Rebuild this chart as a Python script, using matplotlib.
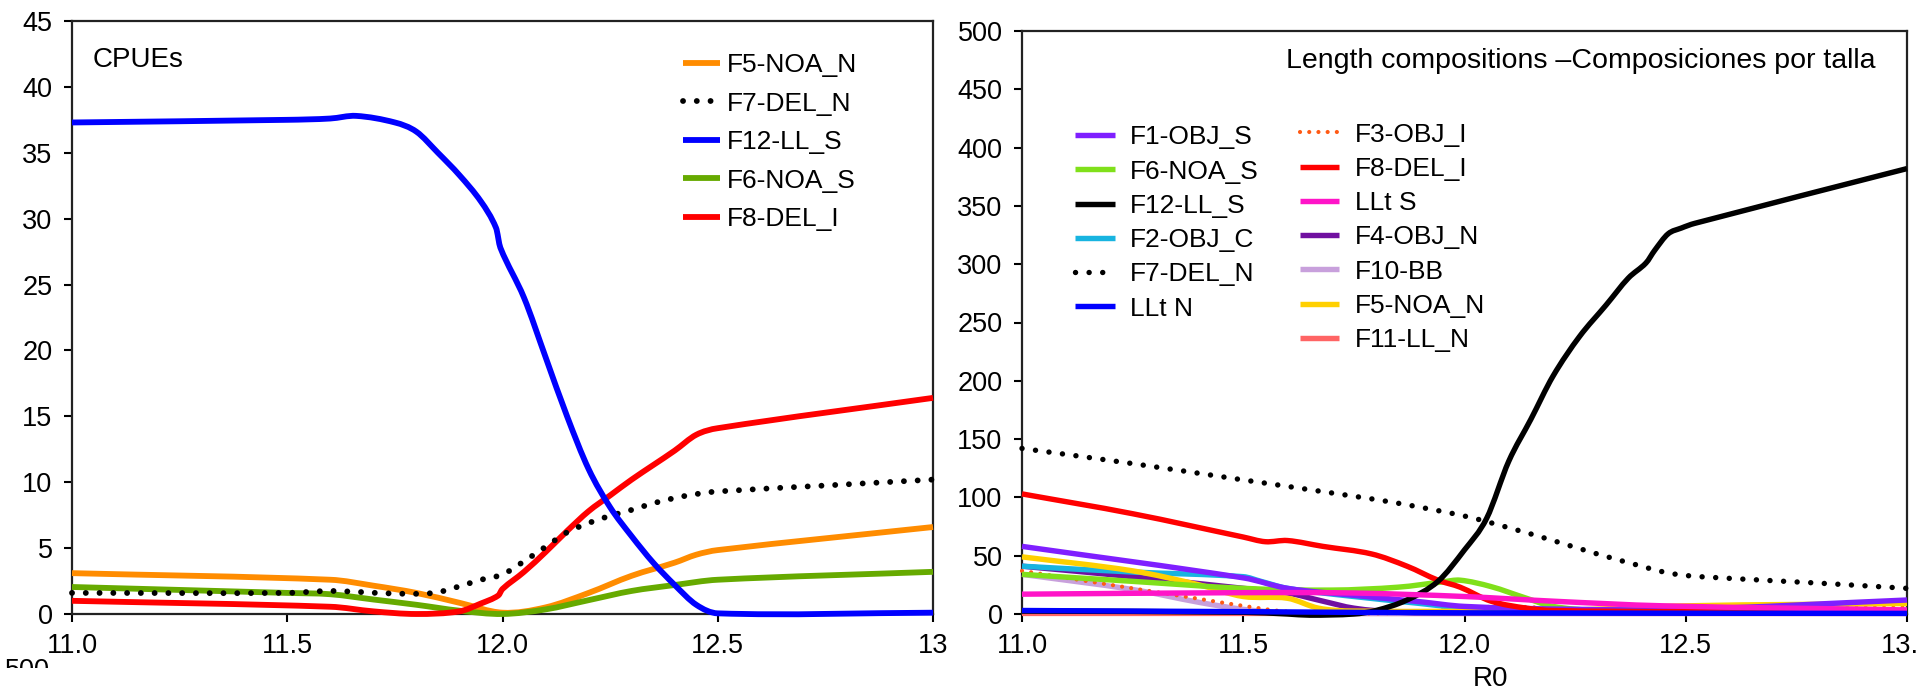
import matplotlib
matplotlib.use('Agg')
import matplotlib.pyplot as plt
from matplotlib.lines import Line2D
from matplotlib.patches import Rectangle, PathPatch
from matplotlib.path import Path

plt.rcParams['font.family'] = ['Liberation Sans', 'DejaVu Sans']

# ---- left panel: CPUEs ----
f5_x = [11.0, 11.6, 11.7, 11.8, 11.9, 12.0, 12.1, 12.2, 12.3, 12.4, 12.45, 12.5, 13.0]
f5_y = [3.1, 2.6, 2.15, 1.6, 0.85, 0.1, 0.5, 1.6, 2.9, 3.9, 4.5, 4.85, 6.6]
f7_x = [11.0, 11.5, 11.6, 11.75, 11.84, 11.9, 11.95, 12.0, 12.05, 12.1, 12.15, 12.2,
        12.25, 12.3, 12.35, 12.4, 12.45, 12.5, 12.75, 13.0]
f7_y = [1.6, 1.6, 1.75, 1.55, 1.6, 2.1, 2.6, 3.0, 4.0, 5.1, 6.2, 6.9,
        7.45, 7.9, 8.4, 8.8, 9.1, 9.3, 9.75, 10.2]
f12_x = [11.0, 11.5, 11.6, 11.66, 11.75, 11.8, 11.85, 11.9, 11.95, 11.985, 11.995, 12.05,
         12.1, 12.15, 12.2, 12.25, 12.3, 12.35, 12.4, 12.45, 12.5, 13.0]
f12_y = [37.3, 37.5, 37.6, 37.8, 37.3, 36.6, 35.0, 33.3, 31.3, 29.3, 27.8, 24.0,
         19.5, 15.0, 11.0, 8.1, 5.9, 3.9, 2.2, 0.7, 0.05, 0.1]
f6_x = [11.0, 11.5, 11.6, 11.7, 11.8, 11.9, 12.0, 12.1, 12.2, 12.3, 12.4, 12.5, 13.0]
f6_y = [2.05, 1.6, 1.5, 1.1, 0.7, 0.25, 0.0, 0.35, 1.05, 1.75, 2.2, 2.6, 3.2]
f8_x = [11.0, 11.6, 11.7, 11.8, 11.9, 11.95, 11.99, 12.0, 12.05, 12.1, 12.15, 12.2,
        12.25, 12.3, 12.35, 12.4, 12.45, 12.5, 13.0]
f8_y = [1.0, 0.55, 0.2, 0.0, 0.2, 0.8, 1.4, 1.9, 3.2, 4.7, 6.3, 7.8,
        9.0, 10.2, 11.3, 12.4, 13.6, 14.1, 16.4]

# ---- right panel: length compositions ----
r_f1_x = [11.0, 11.5, 11.6, 11.75, 11.9, 12.0, 12.25, 12.5, 13.0]
r_f1_y = [58, 31, 22, 16, 10.5, 6.5, 4, 4, 12]
r_f6_x = [11.0, 11.25, 11.5, 11.7, 11.85, 11.95, 11.99, 12.06, 12.14, 12.2, 12.3, 12.5, 13.0]
r_f6_y = [34, 28, 22, 20.5, 23, 27.5, 29, 23.5, 13.5, 6.5, 3, 2.5, 2.5]
r_f12_x = [11.0, 11.5, 11.6, 11.65, 11.75, 11.8, 11.87, 11.94, 12.0, 12.05, 12.1, 12.15,
           12.2, 12.26, 12.32, 12.37, 12.41, 12.43, 12.46, 12.49, 12.52, 13.0]
r_f12_y = [2.5, 1.5, 0, -1, 0, 3, 12, 28, 55, 82, 131, 167,
           204, 238, 265, 288, 301, 312, 326, 331, 335, 382]
r_f2_x = [11.0, 11.25, 11.5, 11.54, 11.6, 11.75, 11.9, 12.0, 12.2, 13.0]
r_f2_y = [41, 36, 32, 28, 22, 15, 9, 5, 2, 1.5]
r_f7_x = [11.0, 11.25, 11.5, 11.75, 11.85, 12.0, 12.1, 12.2, 12.3, 12.4, 12.45, 12.5, 12.65, 12.8, 13.0]
r_f7_y = [142, 129, 115, 101, 95, 84, 74, 63, 51.5, 41, 36, 33, 29.5, 26.5, 22]
r_lltn_x = [11.0, 11.5, 12.0, 13.0]
r_lltn_y = [3, 2, 1, 0.5]
r_f3_x = [11.0, 11.25, 11.4, 11.5, 11.6, 11.75, 11.9, 12.0, 12.1, 12.25, 12.5, 13.0]
r_f3_y = [37, 22, 13, 7, 2, 0.5, 1.5, 5, 6.5, 4, 5, 5.5]
r_f8_x = [11.0, 11.25, 11.5, 11.55, 11.6, 11.68, 11.79, 11.87, 11.94, 11.99, 12.06, 12.14, 12.2, 12.5, 13.0]
r_f8_y = [103, 86, 66, 62, 63, 58, 51.5, 41, 29, 23, 11, 5, 3, 2, 2]
r_llts_x = [11.0, 11.5, 11.75, 12.0, 12.2, 12.45, 13.0]
r_llts_y = [17, 18.3, 18, 15, 11, 7, 3.5]
r_f4_x = [11.0, 11.25, 11.5, 11.6, 11.68, 11.75, 11.85, 12.0, 13.0]
r_f4_y = [41, 32, 22, 18, 11, 5, 1.5, 1, 1]
r_f10_x = [11.0, 11.25, 11.4, 11.5, 11.6, 11.75, 13.0]
r_f10_y = [34, 21, 10, 4, 1, 0.5, 0.5]
r_f5_x = [11.0, 11.25, 11.4, 11.5, 11.6, 11.67, 11.75, 12.2, 12.5, 13.0]
r_f5_y = [49, 37, 25, 15, 13.5, 5, 2.5, 3, 7, 9]
r_f11_x = [11.0, 13.0]
r_f11_y = [0.5, 0.5]

xticks = [11.0, 11.5, 12.0, 12.5, 13.0]
left_xlabels = ['11.0', '11.5', '12.0', '12.5', '13']
right_xlabels = ['11.0', '11.5', '12.0', '12.5', '13.0']

W, H = 1917, 692
fig = plt.figure(figsize=(W / 100.0, H / 100.0), dpi=100)

def axes_px(l, t, r, b):
    return fig.add_axes([l / W, (H - b) / H, (r - l) / W, (b - t) / H])

ax1 = axes_px(72, 21, 933, 614)
ax2 = axes_px(1022, 31, 1907, 614)

def style(ax, ymax, ystep, labels):
    ax.set_xlim(11.0, 13.0)
    ax.set_ylim(0, ymax)
    ax.set_yticks(range(0, ymax + 1, ystep))
    ax.set_xticks(xticks)
    ax.set_xticklabels(labels)
    ax.tick_params(direction='out', length=6, width=1.5, labelsize=19.5, pad=8)
    for s in ax.spines.values():
        s.set_linewidth(1.6)
        s.set_color('#222222')

def smooth_path(x, y):
    # smoothed line like a spreadsheet "smoothed line": cubic Hermite pieces through the points
    n = len(x)
    m = []
    for i in range(n):
        a = max(i - 1, 0)
        b = min(i + 1, n - 1)
        m.append((y[b] - y[a]) / (x[b] - x[a]))
    verts = [(x[0], y[0])]
    codes = [Path.MOVETO]
    for i in range(n - 1):
        d = (x[i + 1] - x[i]) / 3.0
        verts += [(x[i] + d, y[i] + m[i] * d), (x[i + 1] - d, y[i + 1] - m[i + 1] * d), (x[i + 1], y[i + 1])]
        codes += [Path.CURVE4] * 3
    return Path(verts, codes)

def line(ax, x, y, color, label, ls='-', lw=4.2):
    p = PathPatch(smooth_path(x, y), fill=False, edgecolor=color, lw=lw, ls=ls,
                  capstyle='round' if ls != '-' else 'butt', joinstyle='round',
                  clip_on=False, zorder=3)
    ax.add_patch(p)
    return Line2D([], [], color=color, lw=lw, ls=ls, dash_capstyle='round',
                  solid_capstyle='butt', label=label)

dots = (0, (0.01, 2.35))

# left panel
h = {}
h['F5-NOA_N'] = line(ax1, f5_x, f5_y, '#ff8c00', 'F5-NOA_N')
h['F6-NOA_S'] = line(ax1, f6_x, f6_y, '#66aa00', 'F6-NOA_S')
h['F8-DEL_I'] = line(ax1, f8_x, f8_y, '#ff0000', 'F8-DEL_I')
h['F7-DEL_N'] = line(ax1, f7_x, f7_y, 'black', 'F7-DEL_N', ls=dots)
h['F12-LL_S'] = line(ax1, f12_x, f12_y, '#0000ff', 'F12-LL_S')
style(ax1, 45, 5, left_xlabels)
ax1.text(0.0244, 0.934, 'CPUEs', transform=ax1.transAxes, fontsize=20, va='center', ha='left')
order = ['F5-NOA_N', 'F7-DEL_N', 'F12-LL_S', 'F6-NOA_S', 'F8-DEL_I']
ax1.legend([h[k] for k in order], order, loc='upper left', bbox_to_anchor=(0.7096, 0.946),
           frameon=False, fontsize=19, borderpad=0, borderaxespad=0, labelspacing=0.55,
           handlelength=1.4, handletextpad=0.27)

# right panel
RW = 3.9
g = {}
g['F11-LL_N'] = line(ax2, r_f11_x, r_f11_y, '#ff6464', 'F11-LL_N', lw=RW)
g['F10-BB'] = line(ax2, r_f10_x, r_f10_y, '#c8a0dc', 'F10-BB', lw=RW)
g['F4-OBJ_N'] = line(ax2, r_f4_x, r_f4_y, '#7010a0', 'F4-OBJ_N', lw=RW)
g['F3-OBJ_I'] = line(ax2, r_f3_x, r_f3_y, '#ff5a14', 'F3-OBJ_I', ls=(0, (0.01, 2.2)), lw=3.0)
g['F2-OBJ_C'] = line(ax2, r_f2_x, r_f2_y, '#18b4e0', 'F2-OBJ_C', lw=RW)
g['F5-NOA_N'] = line(ax2, r_f5_x, r_f5_y, '#ffd000', 'F5-NOA_N', lw=RW)
g['F6-NOA_S'] = line(ax2, r_f6_x, r_f6_y, '#80e01a', 'F6-NOA_S', lw=RW)
g['F1-OBJ_S'] = line(ax2, r_f1_x, r_f1_y, '#7f1fff', 'F1-OBJ_S', lw=RW)
g['F8-DEL_I'] = line(ax2, r_f8_x, r_f8_y, '#ff0000', 'F8-DEL_I', lw=RW)
g['F12-LL_S'] = line(ax2, r_f12_x, r_f12_y, 'black', 'F12-LL_S', lw=RW)
g['F7-DEL_N'] = line(ax2, r_f7_x, r_f7_y, 'black', 'F7-DEL_N', ls=(0, (0.01, 2.5)), lw=RW)
g['LLt S'] = line(ax2, r_llts_x, r_llts_y, '#ff14c8', 'LLt S', lw=RW)
g['LLt N'] = line(ax2, r_lltn_x, r_lltn_y, '#0000ff', 'LLt N', lw=RW)
style(ax2, 500, 50, right_xlabels)
ax2.set_xlabel('R0', fontsize=20)
ax2.xaxis.set_label_coords(0.529, -0.089)
ax2.text(0.964, 0.9485, 'Length compositions \u2013Composiciones por talla', transform=ax2.transAxes,
         fontsize=20.5, va='center', ha='right')

col1 = ['F1-OBJ_S', 'F6-NOA_S', 'F12-LL_S', 'F2-OBJ_C', 'F7-DEL_N', 'LLt N']
col2 = ['F3-OBJ_I', 'F8-DEL_I', 'LLt S', 'F4-OBJ_N', 'F10-BB', 'F5-NOA_N', 'F11-LL_N']
kw = dict(loc='upper left', frameon=False, fontsize=19, borderpad=0, borderaxespad=0,
          labelspacing=0.39, handlelength=1.5, handletextpad=0.57)
leg1 = ax2.legend([g[k] for k in col1], col1, bbox_to_anchor=(0.0599, 0.8384), **kw)
ax2.add_artist(leg1)
ax2.legend([g[k] for k in col2], col2, bbox_to_anchor=(0.314, 0.843), **kw)

# cut-off label of the panel below
fig.text(5 / W, 1 - 658 / H, '500', fontsize=19.5, ha='left', va='top')
fig.patches.append(Rectangle((0, 0), 80 / W, (H - 668) / H, transform=fig.transFigure,
                             facecolor='white', edgecolor='none', zorder=10))

fig.savefig('out.png', dpi=100)
